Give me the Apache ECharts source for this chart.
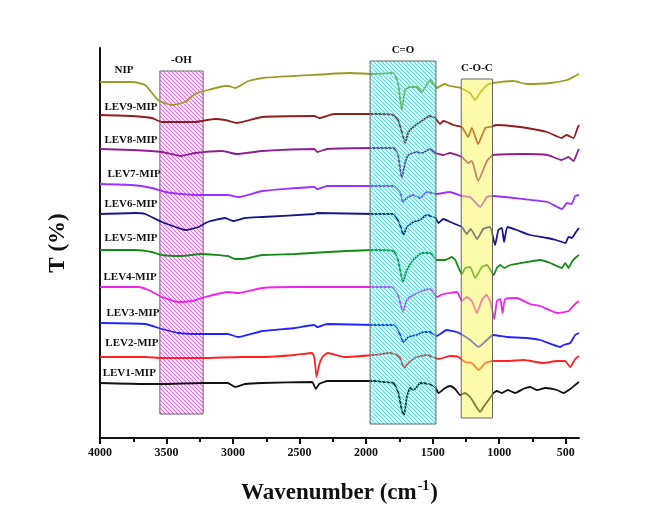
<!DOCTYPE html>
<html>
<head>
<meta charset="utf-8">
<script src="https://cdn.jsdelivr.net/npm/echarts@6/dist/echarts.min.js"></script>
<style>
html, body { margin: 0; padding: 0; background: #fff; }
#chart { width: 669px; height: 512px; }
</style>
</head>
<body>
<div id="chart"></div>
<script>
// FTIR spectra, stacked (T in arbitrary offset units), [wavenumber, T]
var nip = [[4000,356],[3760,356],[3660,353],[3565,338],[3460,333],[3360,336],[3285,344],[3190,348],[3060,352],[3035,352],[2985,350],[2885,357],[2780,360],[2535,362],[2120,365],[1930,364],[1795,365],[1760,355],[1732,328],[1707,348],[1670,351],[1620,351],[1580,346],[1520,358],[1470,350],[1410,354],[1370,352],[1290,350],[1220,345],[1180,338],[1145,345],[1090,353],[1045,355],[895,357],[790,354],[615,355],[490,358],[430,362],[400,364]];
var lev9 = [[4000,323],[3760,322],[3610,320],[3535,316],[3390,316],[3290,316],[3135,319],[3060,318],[2970,315],[2780,321],[2390,322],[2353,320],[2240,324],[1930,324],[1795,323],[1760,318],[1732,306],[1707,295],[1682,306],[1645,311],[1595,316],[1520,322],[1480,320],[1445,314],[1420,317],[1395,316],[1345,313],[1280,311],[1233,301],[1205,310],[1158,294],[1105,310],[1068,311],[1015,313],[910,312],[790,310],[640,306],[532,300],[494,303],[441,300],[411,310],[400,313]];
var lev8 = [[4000,289],[3760,288],[3535,286],[3390,282],[3285,285],[3085,287],[2970,284],[2780,287],[2390,289],[2368,286],[2293,289],[1930,290],[1795,290],[1760,283],[1732,260],[1707,275],[1682,283],[1620,286],[1580,285],[1520,289],[1480,285],[1420,283],[1370,285],[1280,281],[1233,275],[1205,277],[1158,257],[1092,277],[1045,283],[820,284],[636,283],[532,278],[479,281],[441,277],[411,286],[400,289]];
var lev7 = [[4000,254],[3760,253],[3610,250],[3510,246],[3390,244],[3235,243],[3040,243],[2955,241],[2780,247],[2390,251],[2368,249],[2293,252],[1930,252],[1795,252],[1745,246],[1724,236],[1694,240],[1645,243],[1595,240],[1545,246],[1470,244],[1370,246],[1280,242],[1218,241],[1143,231],[1092,241],[1045,242],[820,239],[636,236],[528,229],[490,235],[455,234],[429,242],[400,243]];
var lev6 = [[4000,224],[3735,225],[3660,224],[3535,216],[3410,210],[3360,208],[3260,211],[3190,216],[3060,220],[3000,217],[2910,220],[2780,221],[2390,224],[2368,225],[1930,224],[1795,224],[1775,221],[1745,213],[1719,203],[1694,211],[1645,216],[1595,218],[1545,223],[1480,220],[1456,215],[1420,219],[1368,216],[1280,211],[1243,204],[1215,209],[1165,199],[1120,209],[1068,211],[1031,193],[1006,208],[980,210],[963,196],[938,211],[868,208],[768,203],[636,200],[572,198],[528,196],[501,195],[479,201],[454,200],[423,206],[400,210]];
var lev5 = [[4000,188],[3735,188],[3610,186],[3535,183],[3390,182],[3235,184],[3040,182],[2985,179],[2935,179],[2885,180],[2780,183],[2535,184],[2285,186],[1930,188],[1795,187],[1760,178],[1724,156],[1694,168],[1645,178],[1580,185],[1520,185],[1470,178],[1405,178],[1355,181],[1330,178],[1280,164],[1255,170],[1218,171],[1180,160],[1130,171],[1092,173],[1042,163],[1017,170],[992,173],[962,170],[917,173],[792,176],[692,178],[616,175],[529,170],[504,175],[479,170],[454,176],[429,180],[400,183]];
var lev4 = [[4000,151],[3710,151],[3635,148],[3535,141],[3410,136],[3310,137],[3210,141],[3040,146],[2962,145],[2780,150],[2535,151],[1930,151],[1810,151],[1760,143],[1724,126],[1694,138],[1645,143],[1580,147],[1520,149],[1468,141],[1420,144],[1318,146],[1280,137],[1243,141],[1205,137],[1168,125],[1130,138],[1095,143],[1068,137],[1037,119],[1017,137],[992,139],[975,125],[955,139],[868,140],[768,134],[692,132],[560,125],[479,127],[429,134],[400,137]];
var lev3 = [[4000,115],[3660,114],[3535,109],[3410,105],[3235,104],[3040,104],[2962,101],[2780,107],[2535,110],[2390,113],[2368,111],[2293,114],[1930,113],[1795,113],[1760,108],[1719,96],[1682,101],[1620,103],[1570,106],[1520,106],[1468,102],[1395,108],[1318,106],[1262,102],[1218,98],[1155,91],[1092,98],[1048,103],[942,101],[792,100],[692,98],[541,91],[516,93],[466,95],[429,103],[400,105]];
var lev2 = [[4000,81],[3660,81],[3535,80],[3235,80],[2935,81],[2780,81],[2535,83],[2406,85],[2388,80],[2373,61],[2353,73],[2328,81],[2290,85],[2165,81],[1945,83],[1820,85],[1770,83],[1745,80],[1714,70],[1682,75],[1620,81],[1545,83],[1495,81],[1456,79],[1368,82],[1306,81],[1256,76],[1205,75],[1155,68],[1105,75],[1055,77],[942,77],[817,78],[667,75],[566,77],[504,77],[466,71],[429,79],[400,82]];
var lev1 = [[4000,55],[3660,54],[3535,54],[3235,55],[3040,55],[2985,51],[2910,54],[2780,55],[2406,56],[2378,49],[2353,54],[2290,57],[1930,57],[1870,56],[1795,55],[1757,45],[1732,28],[1714,23],[1694,41],[1669,50],[1644,48],[1619,51],[1594,55],[1531,54],[1481,51],[1456,45],[1406,50],[1368,52],[1331,49],[1293,43],[1256,45],[1218,41],[1180,33],[1143,26],[1118,31],[1080,38],[1042,45],[1017,47],[980,45],[935,48],[880,45],[820,49],[767,51],[717,48],[654,50],[566,48],[516,45],[466,49],[429,53],[400,56]];

var spectra = [nip, lev9, lev8, lev7, lev6, lev5, lev4, lev3, lev2, lev1];
var names = ['NIP','LEV9-MIP','LEV8-MIP','LEV7-MIP','LEV6-MIP','LEV5-MIP','LEV4-MIP','LEV3-MIP','LEV2-MIP','LEV1-MIP'];
var colors = ['#9c9b23','#8f1d1d','#8e208e','#9b30ff','#16168a','#168a16','#f022f0','#2323ff','#ff2222','#111111'];
var labelAt = [[3820,368],[3767,331],[3767,298],[3744,264],[3767,234],[3767,200],[3774,161],[3752,125],[3760,95],[3780,65]];

// marked absorption bands
var bandNames = ['-OH','C=O','C-O-C'];
var bandRanges = [[3550,3225],[1970,1475],[1285,1050]];
var bandHeights = [[24,367],[14,377],[20,359]];

var majorTicks = [4000,3500,3000,2500,2000,1500,1000,500];
var minorTicks = [3750,3250,2750,2250,1750,1250,750];

var FONT = '"Liberation Serif", "Times New Roman", serif';

function stripes(color, w) {
    var c = document.createElement('canvas');
    c.width = 8; c.height = 8;
    var ctx = c.getContext('2d');
    ctx.strokeStyle = color;
    ctx.lineWidth = w;
    for (var k = -8; k <= 16; k += 4) {
        ctx.beginPath();
        ctx.moveTo(k, 0);
        ctx.lineTo(k + 8, 8);
        ctx.stroke();
    }
    return c;
}
var fills = [
    { image: stripes('#ec60ec', 1.1), repeat: 'repeat' },
    { image: stripes('#45e0e0', 1.2), repeat: 'repeat' },
    'rgba(248,244,80,0.48)'
];
var bandZ = [1, 5, 5];

var chart = echarts.init(document.getElementById('chart'));
var series = [];

bandNames.forEach(function (nm, i) {
    series.push({
        type: 'custom',
        z: bandZ[i],
        clip: false,
        silent: true,
        encode: { x: [0, 1], y: [2, 3] },
        data: [[bandRanges[i][0], bandRanges[i][1], bandHeights[i][0], bandHeights[i][1]]],
        renderItem: function (params, api) {
            var p1 = api.coord([api.value(0), api.value(3)]);
            var p2 = api.coord([api.value(1), api.value(2)]);
            return {
                type: 'group',
                children: [{
                    type: 'rect',
                    shape: { x: p1[0], y: p1[1], width: p2[0] - p1[0], height: p2[1] - p1[1] },
                    style: { fill: fills[i], stroke: '#666', lineWidth: 1 }
                }, {
                    type: 'text',
                    style: {
                        text: nm, x: (p1[0] + p2[0]) / 2, y: p1[1] - 5,
                        align: 'center', verticalAlign: 'bottom',
                        font: 'bold 11px ' + FONT, fill: '#111'
                    }
                }]
            };
        }
    });
});

spectra.forEach(function (d, i) {
    series.push({
        name: names[i],
        type: 'line',
        z: 2,
        data: d,
        showSymbol: false,
        smooth: 0.15,
        lineStyle: { color: colors[i], width: 1.8 },
        itemStyle: { color: colors[i] },
        markPoint: {
            symbolSize: 0,
            silent: true,
            data: [{ coord: labelAt[i] }],
            label: {
                show: true, position: 'inside', formatter: names[i],
                fontFamily: FONT, fontWeight: 'bold', fontSize: 11, color: '#111'
            }
        }
    });
});

var option = {
    animation: false,
    backgroundColor: '#fff',
    grid: { left: 100, right: 90, top: 48, bottom: 74 },
    xAxis: [{
        type: 'value', min: 400, max: 4000, inverse: true, position: 'bottom',
        name: '{a|Wavenumber (cm}{b|-1}{a|)}',
        nameLocation: 'middle', nameGap: 41,
        nameTextStyle: {
            rich: {
                a: { fontFamily: FONT, fontWeight: 'bold', fontSize: 23, color: '#111', lineHeight: 28 },
                b: { fontFamily: FONT, fontWeight: 'bold', fontSize: 14, color: '#111', verticalAlign: 'top', lineHeight: 28, padding: [0, 1, 12, 1] }
            }
        },
        splitLine: { show: false },
        axisLine: { lineStyle: { color: '#111', width: 2 } },
        axisTick: { length: 6, lineStyle: { color: '#111', width: 2 }, customValues: majorTicks },
        axisLabel: {
            customValues: majorTicks,
            formatter: function (v) { return String(v); },
            fontFamily: FONT, fontWeight: 'bold', fontSize: 12, color: '#111', margin: 9
        }
    }, {
        type: 'value', min: 400, max: 4000, inverse: true, position: 'bottom', offset: 0,
        splitLine: { show: false },
        axisLine: { show: false },
        axisTick: { length: 4, lineStyle: { color: '#111', width: 2 }, customValues: minorTicks },
        axisLabel: { show: false }
    }],
    yAxis: {
        type: 'value', min: 0, max: 390,
        name: 'T (%)', nameLocation: 'middle', nameGap: 30, nameRotate: 90,
        nameTextStyle: { fontFamily: FONT, fontWeight: 'bold', fontSize: 23, color: '#111' },
        splitLine: { show: false },
        axisLine: { show: true, lineStyle: { color: '#111', width: 2 } },
        axisTick: { show: false },
        axisLabel: { show: false }
    },
    series: series
};
chart.setOption(option);
</script>
</body>
</html>
